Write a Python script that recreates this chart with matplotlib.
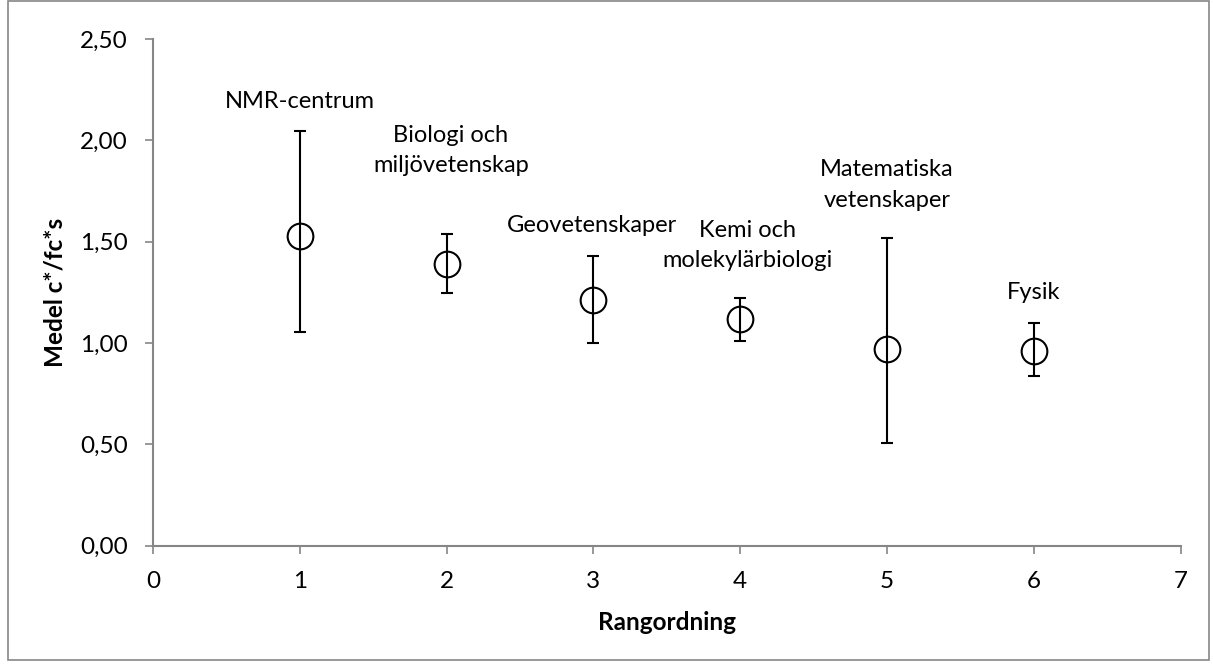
import matplotlib
matplotlib.use("Agg")
import matplotlib.pyplot as plt
from matplotlib.patches import Rectangle

# data
rank = [1, 2, 3, 4, 5, 6]
medel = [1.53, 1.39, 1.21, 1.12, 0.97, 0.96]
upper = [2.045, 1.54, 1.43, 1.22, 1.52, 1.10]
lower = [1.055, 1.245, 1.00, 1.01, 0.505, 0.835]
labels = ["NMR-centrum", "Biologi och\nmiljövetenskap", "Geovetenskaper",
          "Kemi och\nmolekylärbiologi", "Matematiska\nvetenskaper", "Fysik"]
label_x = [1, 2.03, 2.99, 4.05, 5.0, 6.0]
label_y = [2.19, 1.95, 1.58, 1.48, 1.78, 1.25]
yticks = [0.0, 0.5, 1.0, 1.5, 2.0, 2.5]
xticks = [0, 1, 2, 3, 4, 5, 6, 7]

plt.rcParams["font.family"] = ["Lato", "DejaVu Sans"]
grey = "#868686"

fig = plt.figure(figsize=(12.13, 6.64), dpi=100)
ax = fig.add_axes([0.1261, 0.1782, 0.9734 - 0.1261, 0.9413 - 0.1782])

err_lo = [m - l for m, l in zip(medel, lower)]
err_hi = [u - m for m, u in zip(medel, upper)]
ax.errorbar(rank, medel, yerr=[err_lo, err_hi], fmt="o", color="black",
            ms=18.5, mfc="none", mec="black", mew=1.5,
            elinewidth=1.5, capsize=4, capthick=1.5)

for x, y, t in zip(label_x, label_y, labels):
    ax.text(x, y, t, ha="center", va="center", fontsize=17,
            linespacing=1.55)

ax.set_xlim(0, 7)
ax.set_ylim(0, 2.5)
ax.set_xticks(xticks)
ax.set_yticks(yticks)
ax.set_yticklabels([f"{v:.2f}".replace(".", ",") for v in yticks])
ax.tick_params(axis="both", direction="out", length=6, width=1.2,
               color=grey, labelsize=17.5, pad=12)

for s in ["top", "right"]:
    ax.spines[s].set_visible(False)
for s in ["left", "bottom"]:
    ax.spines[s].set_color(grey)
    ax.spines[s].set_linewidth(1.5)

ax.set_xlabel("Rangordning", fontsize=17.5, fontweight="bold", labelpad=14)
ax.set_ylabel("Medel c*/fc*s", fontsize=17.5, fontweight="bold", labelpad=10)

# chart area border
fig.patches.append(Rectangle((0.007, 0.006), 0.99, 0.992, transform=fig.transFigure,
                             fill=False, edgecolor=grey, linewidth=1.2))

fig.savefig("out.png", dpi=100)
